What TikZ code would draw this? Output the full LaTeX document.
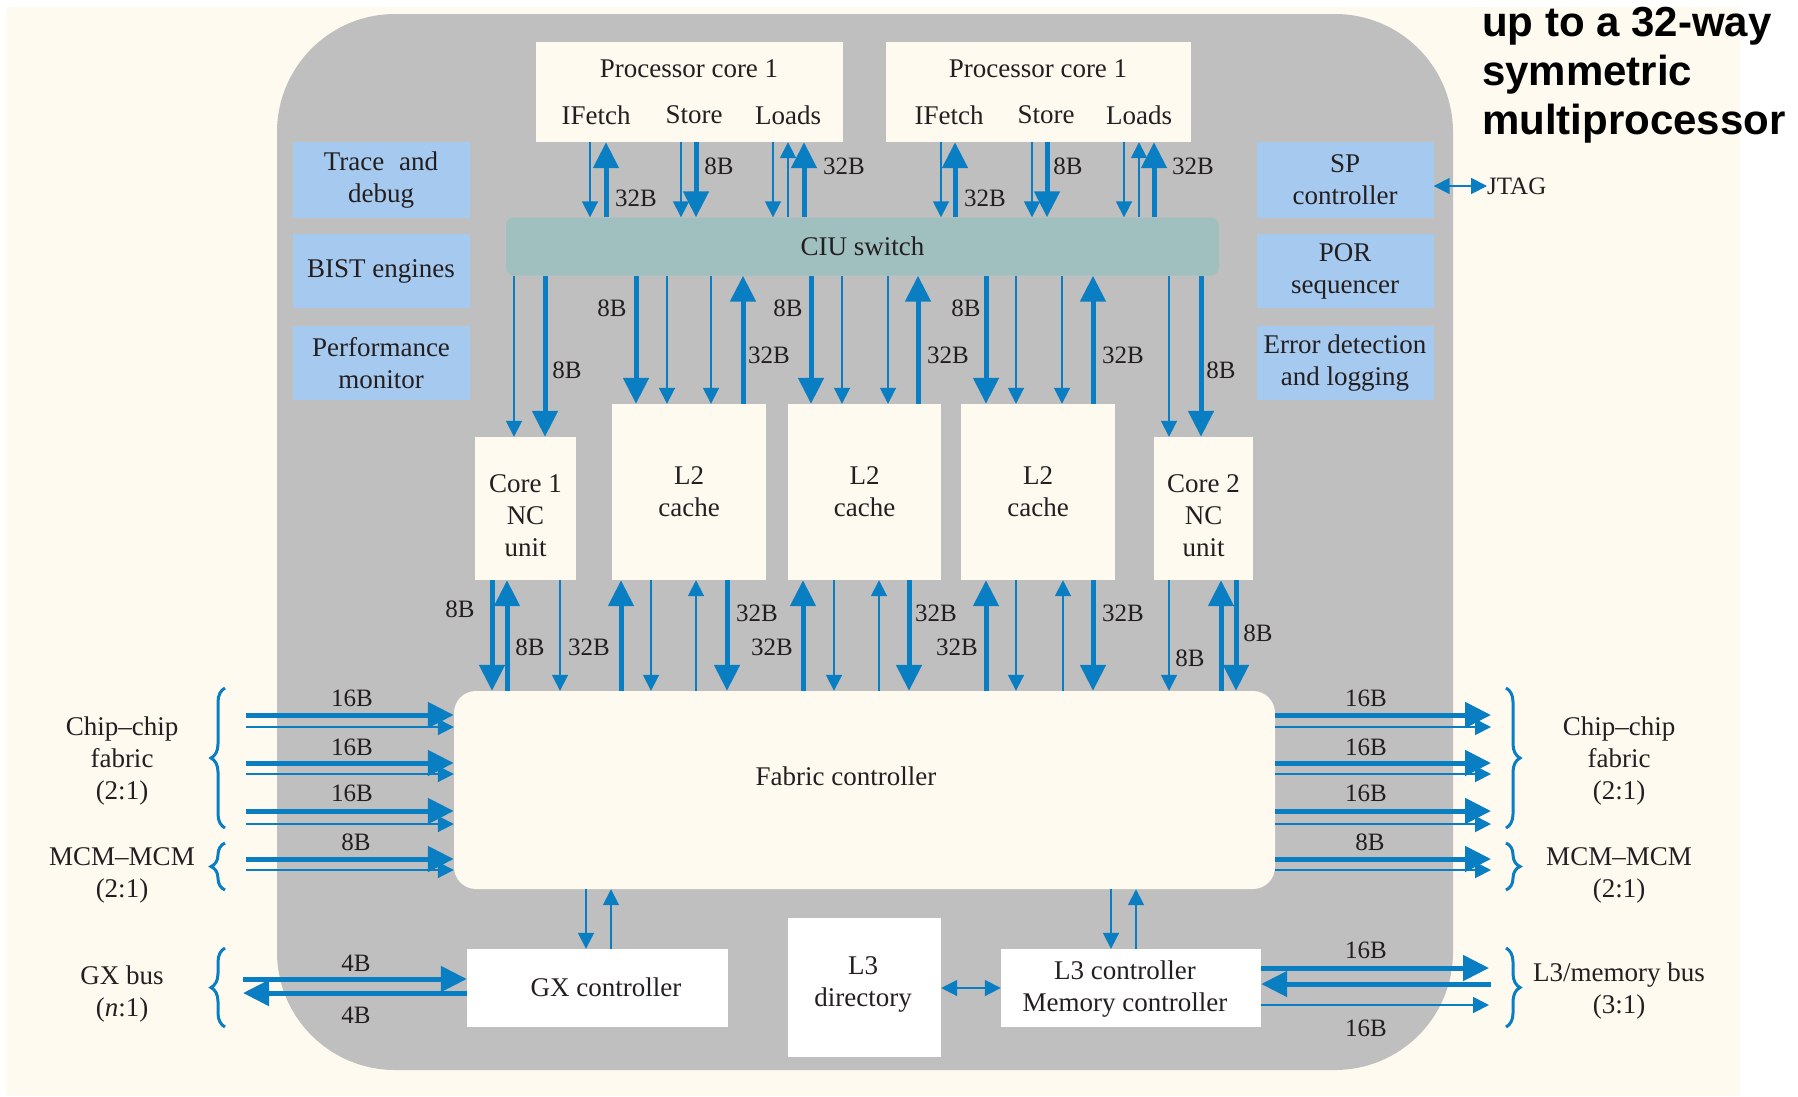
\documentclass[tikz,border=0pt]{standalone}
\usepackage{fontspec}
\setmainfont{Liberation Serif}
\newfontfamily\ttlfont{Liberation Sans}
\usetikzlibrary{arrows.meta,decorations.pathreplacing}
\definecolor{cream}{HTML}{FEFAF0}
\definecolor{chipgray}{HTML}{BFBFBF}
\definecolor{lblue}{HTML}{A6C9EF}
\definecolor{ciucol}{HTML}{A0BFBF}
\definecolor{ablue}{HTML}{0A7EC2}
\definecolor{txt}{HTML}{231F20}
\newcommand\myarr[4]{\draw[#1] (#2 -| #4,0) -- (#3 -| #4,0);}
\begin{document}
\begin{tikzpicture}[x=1pt,y=-1pt,
  every node/.style={text=txt, font=\fontsize{27}{32}\selectfont, inner sep=0pt},
  cbox/.style={fill=cream, align=center},
  wbox/.style={fill=white, align=center},
  bbox/.style={fill=lblue, align=center, minimum width=177pt},
  lbl/.style={font=\fontsize{25}{30}\selectfont},
  thk/.style={draw=ablue, line width=5pt, -{Triangle[length=26pt,width=25pt]}},
  thn/.style={draw=ablue, line width=1.8pt, -{Triangle[length=16pt,width=16pt]}},
  dbl/.style={draw=ablue, line width=1.8pt, {Triangle[length=16pt,width=16pt]}-{Triangle[length=16pt,width=16pt]}},
  brc/.style={draw=ablue, line width=3pt, decorate, decoration={brace, amplitude=14pt}},
]
\useasboundingbox (0,0) rectangle (1798,1096);
\fill[white] (0,0) rectangle (1798,1096);
\fill[cream] (6,7) rectangle (1740,1096);
\fill[chipgray, rounded corners=118pt] (277,14) rectangle (1453,1070);

% title
\node[font=\ttlfont\bfseries\fontsize{42}{50}\selectfont, anchor=base west, text=black] (t1) at (1482,36) {up to a 32-way};
\node[font=\ttlfont\bfseries\fontsize{42}{50}\selectfont, anchor=base west, text=black] (t2) at (1482,85) {symmetric};
\node[font=\ttlfont\bfseries\fontsize{42}{50}\selectfont, anchor=base west, text=black] (t3) at (1482,134) {multiprocessor};

% processor cores
\node[cbox, minimum width=307pt, minimum height=100pt] (p1) at (689.5,92) {};
\node[cbox, minimum width=305pt, minimum height=100pt] (p2) at (1038.5,92) {};
\node (p1t) at (689,69) {Processor core 1};
\node (p1i) at (596,115) {IFetch};
\node (p1s) at (694,115) {Store};
\node (p1l) at (788,115) {Loads};
\node (p2t) at (1038,69) {Processor core 1};
\node (p2i) at (949,115) {IFetch};
\node (p2s) at (1046,115) {Store};
\node (p2l) at (1139,115) {Loads};

% CIU
\node[fill=ciucol, rounded corners=8pt, minimum width=713pt, minimum height=58pt] (ciu) at (862.5,246.5) {CIU switch};

% side blue boxes
\node[bbox, minimum height=76pt] (trace) at (381,180) {Trace\hspace{0.55em}and\\debug};
\node[bbox, minimum height=74pt] (bist) at (381,271) {BIST engines};
\node[bbox, minimum height=74pt] (perf) at (381,363) {Performance\\monitor};
\node[bbox, minimum height=76pt] (sp) at (1345,180) {SP\\controller};
\node[bbox, minimum height=74pt] (por) at (1345,271) {POR\\sequencer};
\node[bbox, minimum height=74pt] (err) at (1345,363) {Error detection\\and logging};

% NC units and L2
\node[cbox, minimum width=101pt, minimum height=143pt] (nc1) at (525.5,508.5) {};
\node[align=center] (nc1t) at (525.5,516) {Core 1\\NC\\unit};
\node[cbox, minimum width=99pt, minimum height=143pt] (nc2) at (1203.5,508.5) {};
\node[align=center] (nc2t) at (1203.5,516) {Core 2\\NC\\unit};
\node[cbox, minimum width=154pt, minimum height=176pt] (l2a) at (689,492) {L2\\cache};
\node[cbox, minimum width=153pt, minimum height=176pt] (l2b) at (864.5,492) {L2\\cache};
\node[cbox, minimum width=154pt, minimum height=176pt] (l2c) at (1038,492) {L2\\cache};

% fabric
\node[cbox, rounded corners=22pt, minimum width=821pt, minimum height=198pt] (fab) at (864.5,790) {};
\node (fabt) at (846,776) {Fabric controller};

% bottom boxes
\node[wbox, minimum width=261pt, minimum height=78pt] (gx) at (597.5,988) {};
\node (gxt) at (606,987) {GX controller};
\node[wbox, minimum width=153pt, minimum height=139pt] (l3d) at (864.5,987.5) {};
\node[align=center] (l3dt) at (863,984) {L3\\directory};
\node[wbox, minimum width=260pt, minimum height=78pt] (l3c) at (1131,988) {};
\node[align=center] (l3ct) at (1125,989) {L3 controller\\Memory controller};

% top arrows
\myarr{thn}{p1.south}{ciu.north}{590}
\myarr{thk}{ciu.north}{p1.south}{606}
\myarr{thn}{p1.south}{ciu.north}{681}
\myarr{thk}{p1.south}{ciu.north}{696}
\myarr{thn}{p1.south}{ciu.north}{773}
\myarr{thn}{ciu.north}{p1.south}{788}
\myarr{thk}{ciu.north}{p1.south}{804}
\myarr{thn}{p2.south}{ciu.north}{941}
\myarr{thk}{ciu.north}{p2.south}{955}
\myarr{thn}{p2.south}{ciu.north}{1032}
\myarr{thk}{p2.south}{ciu.north}{1047}
\myarr{thn}{p2.south}{ciu.north}{1124}
\myarr{thn}{ciu.north}{p2.south}{1139}
\myarr{thk}{ciu.north}{p2.south}{1154}

% middle arrows
\myarr{thn}{ciu.south}{nc1.north}{514}
\myarr{thk}{ciu.south}{nc1.north}{545}
\myarr{thk}{ciu.south}{l2a.north}{636}
\myarr{thn}{ciu.south}{l2a.north}{667}
\myarr{thn}{ciu.south}{l2a.north}{711}
\myarr{thk}{l2a.north}{ciu.south}{743}
\myarr{thk}{ciu.south}{l2b.north}{811}
\myarr{thn}{ciu.south}{l2b.north}{842}
\myarr{thn}{ciu.south}{l2b.north}{888}
\myarr{thk}{l2b.north}{ciu.south}{918}
\myarr{thk}{ciu.south}{l2c.north}{986}
\myarr{thn}{ciu.south}{l2c.north}{1016}
\myarr{thn}{ciu.south}{l2c.north}{1062}
\myarr{thk}{l2c.north}{ciu.south}{1093}
\myarr{thn}{ciu.south}{nc2.north}{1169}
\myarr{thk}{ciu.south}{nc2.north}{1201}

% bottom arrows
\myarr{thk}{nc1.south}{fab.north}{492}
\myarr{thk}{fab.north}{nc1.south}{507}
\myarr{thn}{nc1.south}{fab.north}{560}
\myarr{thk}{fab.north}{l2a.south}{621}
\myarr{thn}{l2a.south}{fab.north}{651}
\myarr{thn}{fab.north}{l2a.south}{696}
\myarr{thk}{l2a.south}{fab.north}{727}
\myarr{thk}{fab.north}{l2b.south}{803}
\myarr{thn}{l2b.south}{fab.north}{834}
\myarr{thn}{fab.north}{l2b.south}{879}
\myarr{thk}{l2b.south}{fab.north}{909}
\myarr{thk}{fab.north}{l2c.south}{986}
\myarr{thn}{l2c.south}{fab.north}{1016}
\myarr{thn}{fab.north}{l2c.south}{1063}
\myarr{thk}{l2c.south}{fab.north}{1093}
\myarr{thn}{nc2.south}{fab.north}{1169}
\myarr{thk}{fab.north}{nc2.south}{1221}
\myarr{thk}{nc2.south}{fab.north}{1236}

% lower arrows
\myarr{thn}{fab.south}{gx.north}{586}
\myarr{thn}{gx.north}{fab.south}{611}
\myarr{thn}{fab.south}{l3c.north}{1111}
\myarr{thn}{l3c.north}{fab.south}{1136}
\draw[dbl] (l3d.east |- 0,988) -- (l3c.west |- 0,988);

% fabric side arrows
\foreach \i/\ya/\yb in {1/715/727, 2/763/774, 3/811/824, 4/859/870}{
  \coordinate (cla\i) at (246,\ya);
  \coordinate (clb\i) at (246,\yb);
  \coordinate (cra\i) at (1491,\ya);
  \coordinate (crb\i) at (1491,\yb);
  \draw[thk] (cla\i) -- (fab.west |- cla\i);
  \draw[thn] (clb\i) -- (fab.west |- clb\i);
  \draw[thk] (fab.east |- cra\i) -- (cra\i);
  \draw[thn] (fab.east |- crb\i) -- (crb\i);
}

% GX bus
\coordinate (g1) at (243,979);
\coordinate (g2) at (243,993);
\draw[thk] (g1) -- (gx.west |- g1);
\draw[thk] (gx.west |- g2) -- (g2);

% L3 memory bus
\coordinate (m1) at (1489,968);
\coordinate (m2) at (1491,984);
\coordinate (m3) at (1489,1005);
\draw[thk] (l3c.east |- m1) -- (m1);
\draw[thk] (m2) -- (l3c.east |- m2);
\draw[thn] (l3c.east |- m3) -- (m3);

% JTAG
\node[lbl, anchor=west] (jtag) at (1487,186) {JTAG};
\draw[dbl] (sp.east |- jtag.west) -- (jtag.west);

% braces
\draw[brc] (225,828) -- (225,688);
\draw[brc] (225,890) -- (225,843);
\draw[brc] (225,1027) -- (225,948);
\draw[brc] (1506,688) -- (1506,828);
\draw[brc] (1506,843) -- (1506,890);
\draw[brc] (1506,948) -- (1506,1027);

% side texts
\node[align=center] (ccl) at (122,761) {Chip–chip\\fabric\\(2:1)};
\node[align=center] (mml) at (122,875) {MCM–MCM\\(2:1)};
\node[align=center] (gxl) at (122,994) {GX bus\\(\textit{n}:1)};
\node[align=center] (ccr) at (1619,761) {Chip–chip\\fabric\\(2:1)};
\node[align=center] (mmr) at (1619,875) {MCM–MCM\\(2:1)};
\node[align=center] (l3r) at (1619,991) {L3/memory bus\\(3:1)};

% width labels top
\node[lbl] (la1) at (636,198) {32B};
\node[lbl] (la2) at (719,166) {8B};
\node[lbl] (la3) at (844,166) {32B};
\node[lbl] (la4) at (985,198) {32B};
\node[lbl] (la5) at (1068,166) {8B};
\node[lbl] (la6) at (1193,166) {32B};
% middle
\node[lbl] (lb1) at (567,370) {8B};
\node[lbl] (lb2) at (612,308) {8B};
\node[lbl] (lb3) at (769,355) {32B};
\node[lbl] (lb4) at (788,308) {8B};
\node[lbl] (lb5) at (948,355) {32B};
\node[lbl] (lb6) at (966,308) {8B};
\node[lbl] (lb7) at (1123,355) {32B};
\node[lbl] (lb8) at (1221,370) {8B};
% bottom
\node[lbl] (lc1) at (460,609) {8B};
\node[lbl] (lc2) at (530,647) {8B};
\node[lbl] (lc3) at (589,647) {32B};
\node[lbl] (lc4) at (757,613) {32B};
\node[lbl] (lc5) at (772,647) {32B};
\node[lbl] (lc6) at (936,613) {32B};
\node[lbl] (lc7) at (957,647) {32B};
\node[lbl] (lc8) at (1123,613) {32B};
\node[lbl] (lc9) at (1190,658) {8B};
\node[lbl] (lc10) at (1258,633) {8B};
% side
\node[lbl] (ld1) at (352,698) {16B};
\node[lbl] (ld2) at (352,747) {16B};
\node[lbl] (ld3) at (352,793) {16B};
\node[lbl] (ld4) at (356,842) {8B};
\node[lbl] (le1) at (1366,698) {16B};
\node[lbl] (le2) at (1366,747) {16B};
\node[lbl] (le3) at (1366,793) {16B};
\node[lbl] (le4) at (1370,842) {8B};
\node[lbl] (lf1) at (356,963) {4B};
\node[lbl] (lf2) at (356,1015) {4B};
\node[lbl] (lg1) at (1366,950) {16B};
\node[lbl] (lg2) at (1366,1028) {16B};
\end{tikzpicture}
\end{document}
